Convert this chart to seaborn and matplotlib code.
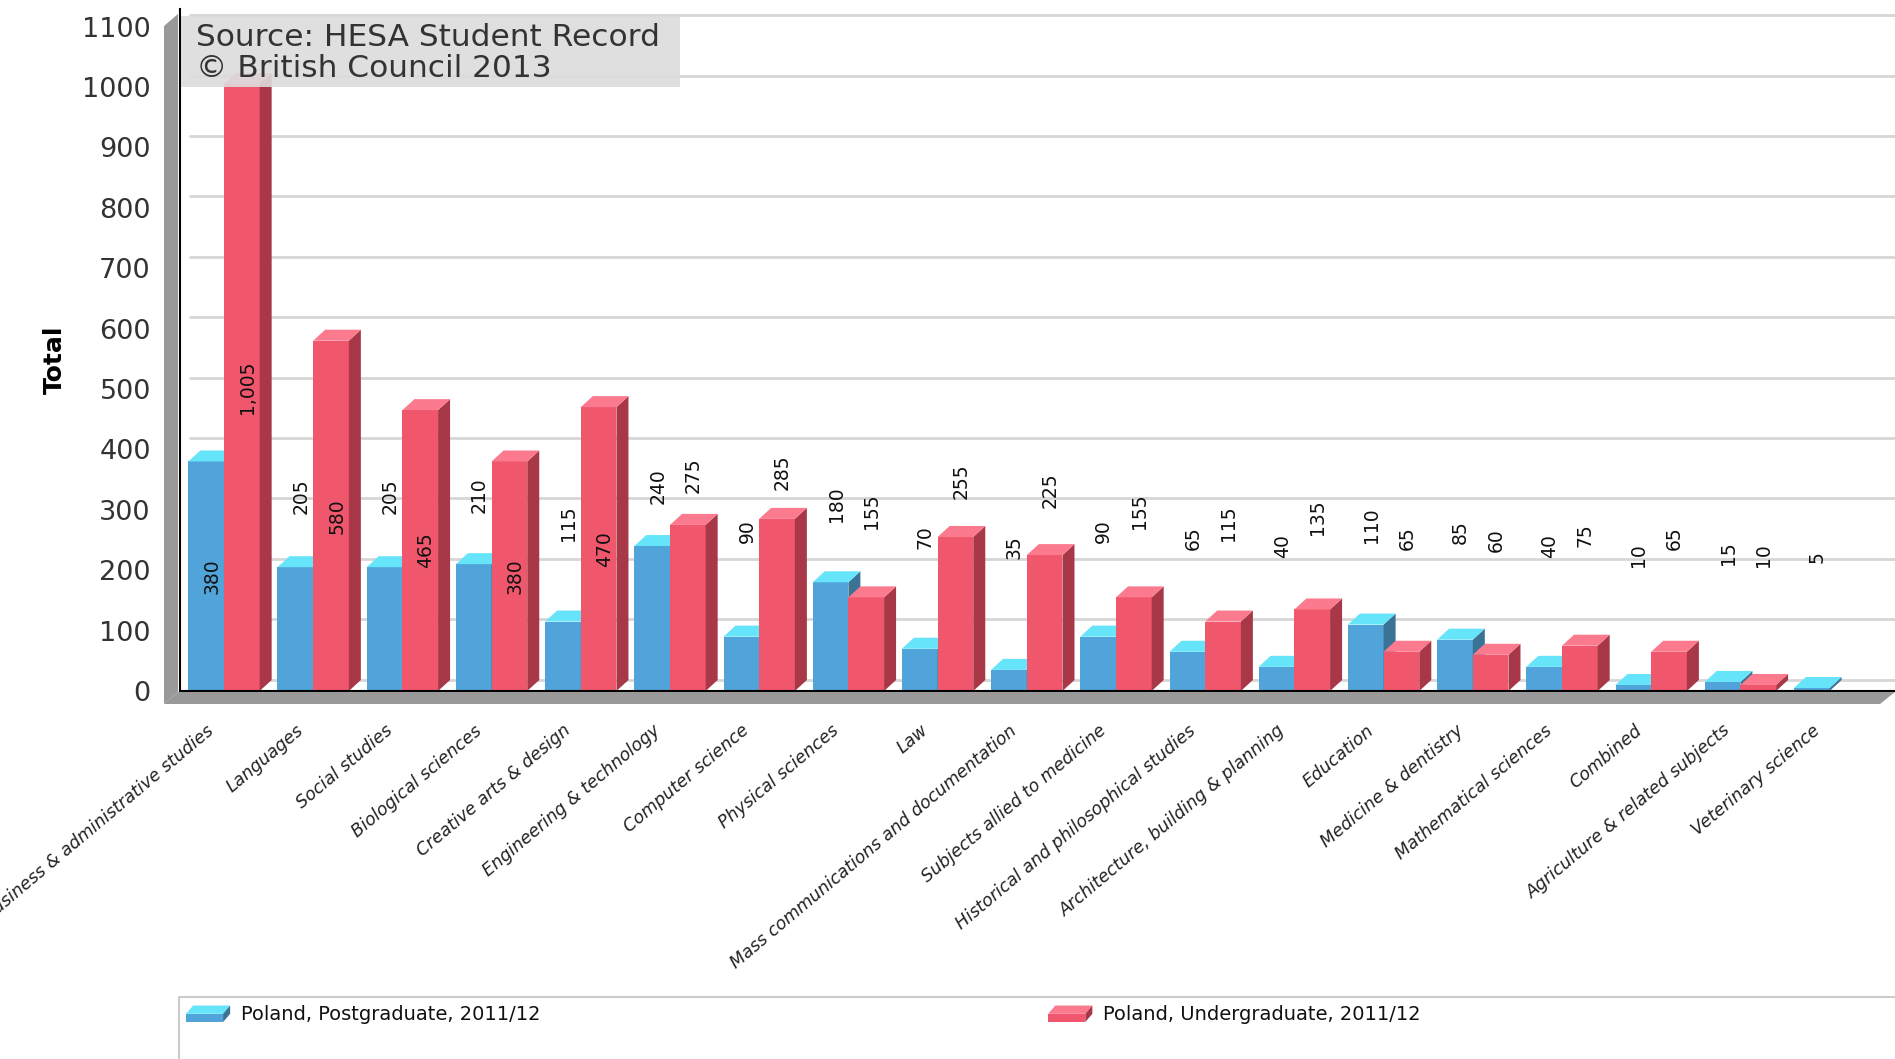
import numpy as np
import pandas as pd
import seaborn as sns
import matplotlib.pyplot as plt
import matplotlib.transforms as mtransforms
from matplotlib.patches import Polygon
from matplotlib.lines import Line2D
from matplotlib.legend_handler import HandlerBase


subjects = ['Business & administrative studies', 'Languages', 'Social studies',
            'Biological sciences', 'Creative arts & design', 'Engineering & technology',
            'Computer science', 'Physical sciences', 'Law',
            'Mass communications and documentation', 'Subjects allied to medicine',
            'Historical and philosophical studies', 'Architecture, building & planning',
            'Education', 'Medicine & dentistry', 'Mathematical sciences', 'Combined',
            'Agriculture & related subjects', 'Veterinary science']
postgrad = [380, 205, 205, 210, 115, 240, 90, 180, 70, 35, 90, 65, 40, 110, 85, 40, 10, 15, 5]
undergrad = [1005, 580, 465, 380, 470, 275, 285, 155, 255, 225, 155, 115, 135, 65, 60, 75, 65, 10, np.nan]
series_names = ['Poland, Postgraduate, 2011/12', 'Poland, Undergraduate, 2011/12']
y_ticks = list(range(0, 1101, 100))

front_colors = ['#50a4d9', '#f0566c']
top_colors = ['#66e4fa', '#fb7a8e']
side_colors = ['#3a7396', '#a83848']

W, H = 1895, 1059


def fig_xy(x, y):
    # pixel position (from top-left) -> figure fraction
    return (x / W, 1 - y / H)


class Box3D:
    def __init__(self, front, top, side):
        self.front, self.top, self.side = front, top, side


class Box3DHandler(HandlerBase):
    def create_artists(self, legend, h, xdescent, ydescent, width, height, fontsize, trans):
        x0, y0, w, ht = -xdescent, -ydescent, width, height
        fw, fh = 0.84 * w, 0.5 * ht
        front = Polygon([(x0, y0), (x0 + fw, y0), (x0 + fw, y0 + fh), (x0, y0 + fh)],
                        facecolor=h.front, lw=0, transform=trans)
        top = Polygon([(x0, y0 + fh), (x0 + fw, y0 + fh), (x0 + w, y0 + ht), (x0 + w - fw, y0 + ht)],
                      facecolor=h.top, lw=0, transform=trans)
        side = Polygon([(x0 + fw, y0), (x0 + w, y0 + ht - fh), (x0 + w, y0 + ht), (x0 + fw, y0 + fh)],
                       facecolor=h.side, lw=0, transform=trans)
        return [front, top, side]


n = len(subjects)
df = pd.DataFrame({
    'Subject': subjects * 2,
    'Series': [series_names[0]] * n + [series_names[1]] * n,
    'Total': postgrad + undergrad,
}).dropna()

sns.set_style('white')
plt.rcParams['font.family'] = ['DejaVu Sans']

fig = plt.figure(figsize=(W / 100, H / 100), dpi=100)
ax = fig.add_axes([180 / W, 368 / H, 1715 / W, 682.5 / H])
ax.patch.set_alpha(0)

sns.barplot(data=df, x='Subject', y='Total', hue='Series', order=subjects,
            hue_order=series_names, palette=front_colors, saturation=1, width=0.8,
            errorbar=None, legend=False, linewidth=0, ax=ax)

ax.set_xlim(-0.493, 18.733)
ax.set_ylim(0, 1130)

# fake 3D: side and top faces for every bar
dx = 12 / 89.2
dy = 11 / 0.604
for k, cont in enumerate(ax.containers):
    for bar in cont:
        x0, w, h = bar.get_x(), bar.get_width(), bar.get_height()
        if not np.isfinite(h):
            continue
        cat = int(round(x0 + w / 2))
        z = 3 + 2 * cat + k
        bar.set_zorder(z)
        side = Polygon([(x0 + w, 0), (x0 + w + dx, dy), (x0 + w + dx, h + dy), (x0 + w, h)],
                       closed=True, facecolor=side_colors[k], lw=0, zorder=z)
        top = Polygon([(x0, h), (x0 + w, h), (x0 + w + dx, h + dy), (x0 + dx, h + dy)],
                      closed=True, facecolor=top_colors[k], lw=0, zorder=z)
        ax.add_patch(side)
        ax.add_patch(top)

# gridlines on the back wall
grid_trans = (mtransforms.blended_transform_factory(ax.transAxes, ax.transData)
              + mtransforms.ScaledTranslation(0.10, 0.115, fig.dpi_scale_trans))
for v in y_ticks:
    ax.plot([0, 1.1], [v, v], transform=grid_trans, color='#d6d6d6', lw=2, zorder=0.5,
            clip_on=False)

# value labels
for k, values in enumerate([postgrad, undergrad]):
    for i, v in enumerate(values):
        if not np.isfinite(v):
            continue
        xpos = i - 0.2 + 0.4 * k
        ypos = v / 2 if v > 300 else v / 2 + 220
        ax.annotate(f'{v:,.0f}', (xpos, ypos), xytext=(4, 0), textcoords='offset points',
                    rotation=90, ha='center', va='center', fontsize=13.5, color='#111',
                    zorder=100)

# axes styling
for s in ['top', 'right']:
    ax.spines[s].set_visible(False)
for s in ['left', 'bottom']:
    ax.spines[s].set_color('black')
    ax.spines[s].set_linewidth(1.5)
    ax.spines[s].set_zorder(60)

ax.set_yticks(y_ticks)
ax.tick_params(axis='y', length=0, pad=21, labelsize=19.5, labelcolor='#333')
ax.set_xticks(np.arange(n) - 0.2)
ax.set_xticklabels(subjects, rotation=40, ha='right', va='top', rotation_mode='anchor',
                   fontsize=12.5, style='italic', color='#222')
ax.tick_params(axis='x', length=0, pad=22)
ax.set_xlabel('')
ax.set_ylabel('Total', fontsize=18, fontweight='bold', color='black')
ax.yaxis.set_label_coords(-0.066, 0.486)

# grey wall and floor
fig.add_artist(Polygon([fig_xy(164, 704), fig_xy(178, 692), fig_xy(178, 14), fig_xy(164, 26)],
                       closed=True, transform=fig.transFigure, facecolor='#999999', lw=0))
fig.add_artist(Polygon([fig_xy(164, 704), fig_xy(1880, 704), fig_xy(1895, 692), fig_xy(178, 692)],
                       closed=True, transform=fig.transFigure, facecolor='#999999', lw=0))
floor_trans = mtransforms.blended_transform_factory(ax.transData, ax.transAxes)
for i in range(n + 1):
    ax.plot([i, i], [-0.003, -0.018], transform=floor_trans, color='#cfcfcf', lw=1.5,
            clip_on=False, zorder=61)

# source box
fig.add_artist(Polygon([fig_xy(181, 16), fig_xy(680, 16), fig_xy(680, 87), fig_xy(181, 87)],
                       closed=True, transform=fig.transFigure, facecolor='#dcdcdc',
                       alpha=0.9, lw=0, zorder=5))
fig.text(*fig_xy(196, 53), 'Source: HESA Student Record\n\u00a9 British Council 2013',
         fontsize=22.5, color='#333', va='center', ha='left', linespacing=1.05, zorder=6)

# legend
handles = [Box3D(front_colors[k], top_colors[k], side_colors[k]) for k in range(2)]
fig.legend(handles=handles, labels=series_names, handler_map={Box3D: Box3DHandler()},
           loc='center left', bbox_to_anchor=fig_xy(186, 1015), ncol=2, frameon=False,
           fontsize=14, handlelength=2.27, handleheight=0.93, handletextpad=0.57,
           columnspacing=26.1, borderpad=0, borderaxespad=0, labelcolor='#111')
fig.add_artist(Line2D([179 / W, 179 / W, 1.0], [0, 1 - 997 / H, 1 - 997 / H],
                      transform=fig.transFigure, color='#cccccc', lw=1.5))

fig.savefig('out.png', dpi=100)
